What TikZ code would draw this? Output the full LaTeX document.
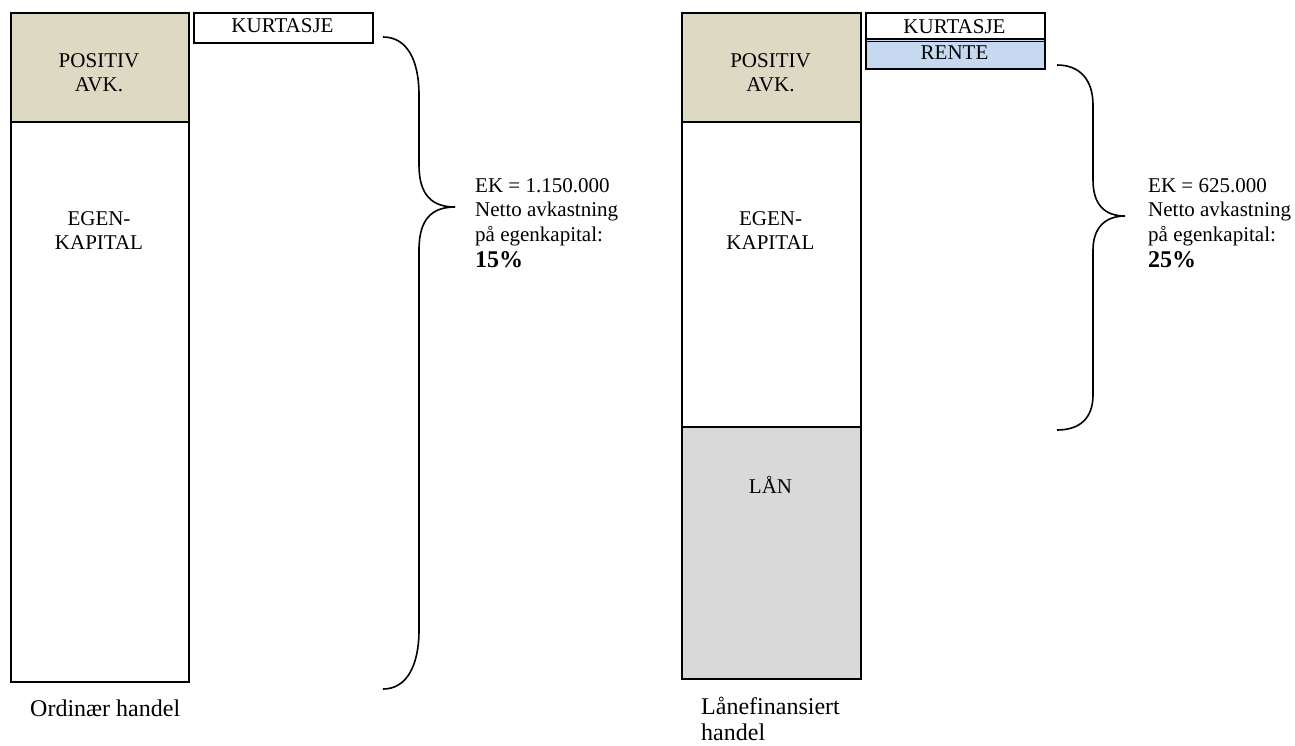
\documentclass[tikz,border=0pt]{standalone}
\usepackage{fontspec}
\setmainfont{Liberation Serif}
\definecolor{tanfill}{HTML}{DDD9C3}
\definecolor{loanfill}{HTML}{D9D9D9}
\definecolor{rentefill}{HTML}{C6D9F1}
\begin{document}
\begin{tikzpicture}[x=1pt,y=-1pt,
  box/.style={draw=black, line width=1.6pt, inner sep=0pt, anchor=north west},
  txt/.style={inner sep=0pt, font=\fontsize{21}{24.5}\selectfont, align=center},
  note/.style={inner sep=0pt, font=\fontsize{21}{24.6}\selectfont, align=left, anchor=north west},
  pct/.style={inner sep=0pt, font=\bfseries\fontsize{24}{24}\selectfont, anchor=base west},
  lab/.style={inner sep=0pt, font=\fontsize{24}{26}\selectfont, align=left},
  bracestyle/.style={draw=black, line width=1.6pt}]
\useasboundingbox (0,0) rectangle (1295,745);

% left column
\node[box, fill=tanfill, minimum width=178pt, minimum height=109pt] (lpav) at (10,12) {};
\node[box, minimum width=178pt, minimum height=560pt] (lek) at (10,121) {};
\node[box, minimum width=179pt, minimum height=30pt] (lkurt) at (193,12) {};

% right column
\node[box, fill=tanfill, minimum width=179pt, minimum height=109pt] (rpav) at (681,12) {};
\node[box, minimum width=179pt, minimum height=305pt] (rek) at (681,121) {};
\node[box, fill=loanfill, minimum width=179pt, minimum height=252pt] (rlan) at (681,426) {};
\node[box, fill=rentefill, minimum width=179pt, minimum height=30pt] (rrente) at (865,38) {};
\node[box, minimum width=179pt, minimum height=26pt] (rkurt) at (865,12) {};
\draw[line width=1.2pt] ([yshift=-3.5pt]rrente.north west) -- ([yshift=-3.5pt]rrente.north east);

% box texts
\node[txt, anchor=north] (lpavt) at (99,53) {POSITIV\\AVK.};
\node[txt, anchor=north] (lekt) at (99,211) {EGEN-\\KAPITAL};
\node[txt, anchor=base] (lkurtt) at (282.5,32.5) {KURTASJE};
\node[txt, anchor=north] (rpavt) at (770.5,53) {POSITIV\\AVK.};
\node[txt, anchor=north] (rekt) at (770.5,211) {EGEN-\\KAPITAL};
\node[txt, anchor=base] (rlant) at (770.5,493) {LÅN};
\node[txt, anchor=base] (rkurtt) at (954.5,33) {KURTASJE};
\node[txt, anchor=base] (rrentet) at (954.5,59) {RENTE};

% braces
\draw[bracestyle] (383,37) .. controls (407,37) and (419,60) .. (419,95)
  -- (419,165) .. controls (419,195) and (432,207) .. (455,207)
  .. controls (432,207) and (419,219) .. (419,250)
  -- (419,630) .. controls (419,665) and (407,689) .. (383,689);
\draw[bracestyle] (1057,65) .. controls (1080,65) and (1093,80) .. (1093,105)
  -- (1093,180) .. controls (1093,205) and (1105,216) .. (1125,216)
  .. controls (1105,216) and (1093,228) .. (1093,250)
  -- (1093,395) .. controls (1093,418) and (1080,430) .. (1057,430);

% notes
\node[note] (lnote) at (475,178) {EK = 1.150.000\\Netto avkastning\\på egenkapital:};
\node[pct] (lpct) at (475,267) {15\%};
\node[note] (rnote) at (1148,178) {EK = 625.000\\Netto avkastning\\på egenkapital:};
\node[pct] (rpct) at (1148,267) {25\%};

% captions
\node[lab, anchor=base west] (llab) at (30,716) {Ordinær handel};
\node[lab, anchor=north west] (rlab) at (701,697) {Lånefinansiert\\handel};
\end{tikzpicture}
\end{document}
